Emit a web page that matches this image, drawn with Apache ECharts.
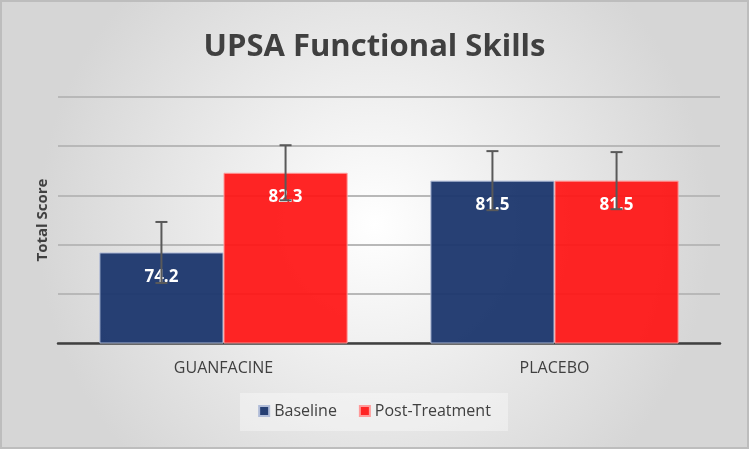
<!DOCTYPE html>
<html>
<head>
<meta charset="utf-8">
<script src="https://cdn.jsdelivr.net/npm/echarts@6/dist/echarts.min.js"></script>
<style>
html, body { margin: 0; padding: 0; }
#main { width: 749px; height: 449px; }
</style>
</head>
<body>
<div id="main"></div>
<script>
var categories = ['GUANFACINE', 'PLACEBO'];
var baseline = [74.2, 81.5];
var postTreatment = [82.3, 81.5];
var baselineErr = [3.1, 3.0];
var postErr = [2.8, 2.9];

var chart = echarts.init(document.getElementById('main'));

// error bars drawn via custom series, offset to each bar's centre
function errorSeries(values, errs, offsetIdx) {
	return {
		type: 'custom',
		z: 10,
		renderItem: function(params, api) {
			var i = api.value(0);
			var v = api.value(1);
			var e = api.value(2);
			var size = api.size([1, 0])[0];
			var barW = size * 0.375;
			var cx = api.coord([i, v])[0] + (offsetIdx === 0 ? -barW / 2 : barW / 2);
			var hi = api.coord([i, v + e])[1];
			var lo = api.coord([i, v - e])[1];
			var style = { stroke: '#595959', lineWidth: 2 };
			return {
				type: 'group',
				children: [
					{ type: 'line', shape: { x1: cx, y1: hi, x2: cx, y2: lo }, style: style },
					{ type: 'line', shape: { x1: cx - 6, y1: hi, x2: cx + 6, y2: hi }, style: style },
					{ type: 'line', shape: { x1: cx - 6, y1: lo, x2: cx + 6, y2: lo }, style: style }
				]
			};
		},
		data: values.map(function(v, i) { return [i, v, errs[i]]; })
	};
}

var labelStyle = {
	show: true,
	position: 'insideTop',
	distance: 16,
	color: '#fff',
	fontSize: 17,
	fontWeight: 'bold',
	fontFamily: 'Open Sans'
};

var option = {
	backgroundColor: {
		type: 'radial', x: 0.5, y: 0.5, r: 0.75,
		colorStops: [{ offset: 0, color: '#ffffff' }, { offset: 1, color: '#d6d6d6' }]
	},
	graphic: [{
		type: 'rect',
		shape: { x: 1, y: 1, width: 747, height: 447 },
		style: { fill: 'none', stroke: '#bdbdbd', lineWidth: 2 },
		silent: true
	}, {
		type: 'rect',
		shape: { x: 240, y: 393, width: 268, height: 38 },
		style: { fill: 'rgba(255,255,255,0.35)' },
		silent: true,
		z: -1
	}],
	title: {
		text: 'UPSA Functional Skills',
		left: 'center',
		top: 27,
		textStyle: {
			fontSize: 31,
			fontWeight: 'bold',
			color: '#404040',
			fontFamily: 'Open Sans'
		}
	},
	legend: {
		bottom: 25,
		left: 'center',
		itemWidth: 10,
		itemHeight: 10,
		itemGap: 22,
		icon: 'rect',
		textStyle: { fontSize: 16, color: '#404040', fontFamily: 'Open Sans' },
		data: ['Baseline', 'Post-Treatment']
	},
	grid: { left: 58, right: 29, top: 97, bottom: 106 },
	xAxis: {
		type: 'category',
		data: categories,
		axisTick: { show: false },
		axisLine: { lineStyle: { color: '#404040', width: 2.5 } },
		axisLabel: { fontSize: 16, color: '#404040', margin: 17, fontFamily: 'Open Sans' }
	},
	yAxis: {
		type: 'value',
		min: 65,
		max: 90,
		interval: 5,
		name: 'Total Score',
		nameLocation: 'middle',
		nameGap: 8,
		nameTextStyle: { fontSize: 15, fontWeight: 'bold', color: '#404040', fontFamily: 'Open Sans' },
		axisLabel: { show: false },
		axisLine: { show: false },
		axisTick: { show: false },
		splitLine: { lineStyle: { color: '#b8b8b8', width: 2 } }
	},
	series: [{
		name: 'Baseline',
		type: 'bar',
		data: baseline,
		barWidth: '37.5%',
		barGap: '0%',
		itemStyle: { color: 'rgba(27,54,109,0.95)', borderColor: '#b0bcd8', borderWidth: 1 },
		label: labelStyle
	}, {
		name: 'Post-Treatment',
		type: 'bar',
		data: postTreatment,
		barWidth: '37.5%',
		itemStyle: { color: 'rgba(255,18,18,0.92)', borderColor: '#ff9a9a', borderWidth: 1 },
		label: labelStyle
	},
	errorSeries(baseline, baselineErr, 0),
	errorSeries(postTreatment, postErr, 1)
	]
};

chart.setOption(option);
window.onresize = chart.resize;
</script>
</body>
</html>
